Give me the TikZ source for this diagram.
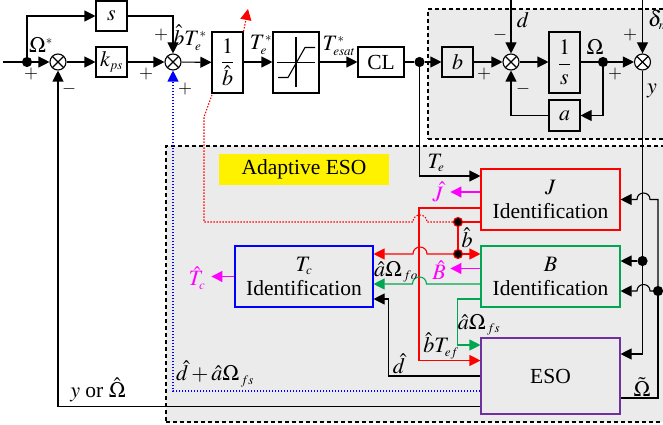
\documentclass[tikz,border=0pt]{standalone}
\usepackage{mathptmx}
\usepackage[no-math]{fontspec}
\setmainfont{Liberation Serif}
\usepackage{amsmath}
\usetikzlibrary{arrows.meta}
\DeclareMathSizes{21.5}{22}{13}{10}

\definecolor{regiongray}{RGB}{235,235,235}
\definecolor{estgreen}{RGB}{0,166,81}
\definecolor{esopurple}{RGB}{112,48,160}
\definecolor{estmagenta}{RGB}{255,0,255}

\begin{document}
\begin{tikzpicture}[x=1pt,y=-1pt,line width=1.1pt,>={Triangle[length=11pt,width=11pt]},
  every node/.style={font=\fontsize{21.5}{24}\selectfont,inner sep=0pt},
  block node/.style={draw,align=center},
  region node/.style={draw,dash pattern=on 4pt off 3pt,fill=regiongray,minimum width=#1},
  sum node/.style={circle,draw,fill=white,minimum size=16pt,path picture={
    \draw (path picture bounding box.north west) -- (path picture bounding box.south east);
    \draw (path picture bounding box.north east) -- (path picture bounding box.south west);}},
  dot node/.style={circle,fill=black,draw=black,minimum size=9pt},
  sign node/.style={font=\fontsize{18}{20}\selectfont},
  est dot/.style={circle,fill=black,draw=red,minimum size=9pt},
  jump arc/.style={out=90,in=90,looseness=1.7},
  dotted line/.style={line width=1.1pt,dash pattern=on 1.5pt off 1.5pt}]

    \useasboundingbox (0,0) rectangle (663,425);

    \node[region node=252pt,minimum height=130pt] (plant) at (554,74) {};
    \node[region node=514pt,minimum height=276pt] (region) at (423,284) {};
    \node[fill=yellow,minimum width=170pt,minimum height=31pt] (title) at (304,169.5) {Adaptive ESO};

    \coordinate (inlet) at (3,62);
    \coordinate (din) at (511,-2);
    \coordinate (deltain) at (642.5,-2);
    \coordinate (redtip) at (248,9);

    \node[dot node] (dot1) at (27,62) {};
    \node[sum node] (sum1) at (58,62) {};
    \node[block node,minimum width=31pt,minimum height=30pt] (kps) at (111.5,62) {$k_{ps}$};
    \node[block node,minimum width=31pt,minimum height=30pt] (s) at (111.5,16) {$s$};
    \node[sum node] (sum2) at (173,62) {};
    \node[block node,minimum width=31pt,minimum height=61pt] (invb) at (227.5,62.5) {$\dfrac{1}{\hat{b}}$};
    \node[block node,minimum width=46pt,minimum height=61pt] (sat) at (296,62.5) {};
    \node[block node,minimum width=46pt,minimum height=30pt] (cl) at (381,62) {CL};
    \node[dot node] (dot2) at (419.5,62) {};
    \node[block node,minimum width=31pt,minimum height=30pt] (b) at (457.5,62) {$b$};
    \node[sum node] (sum3) at (511,62) {};
    \node[block node,minimum width=31pt,minimum height=61pt] (invs) at (564.5,62.5) {$\dfrac{1}{s}$};
    \node[dot node] (dot3) at (603,62) {};
    \node[sum node] (sum4) at (642.5,62) {};
    \node[block node,minimum width=31pt,minimum height=31pt] (a) at (564.5,115.5) {$a$};

    \node[block node,draw=red,minimum width=139pt,minimum height=61pt] (jbox) at (550.5,199.5) {$J$\\Identification};
    \node[block node,draw=estgreen,minimum width=139pt,minimum height=61pt] (bbox) at (550.5,276.5) {$B$\\Identification};
    \node[block node,draw=esopurple,minimum width=139pt,minimum height=76pt] (eso) at (550.5,376) {ESO};
    \node[block node,draw=blue,minimum width=138pt,minimum height=61pt] (tc) at (304,276.5) {$T_c$\\Identification};

    \node[est dot] (rdot1) at (458,222) {};
    \node[est dot] (rdot2) at (458,254) {};
    \node[dot node] (ydot) at (642.5,261) {};
    \node[dot node] (odot) at (658,291) {};

    \draw ([xshift=-19pt]sat.center) -- ([xshift=19pt]sat.center);
    \draw ([yshift=25pt]sat.center) -- ([yshift=-25pt]sat.center);
    \draw ([xshift=-18pt,yshift=-15pt]sat.center) -- ++(10,0) -- ++(17,-30) -- ++(10,0);

    \draw (inlet) -- (dot1);
    \draw[->] (dot1) -- (sum1);
    \draw[->] (dot1) |- (s.west);
    \draw[->] (sum1) -- (kps);
    \draw[->] (kps) -- (sum2);
    \draw[->] (s.east) -| (sum2.north);
    \draw[->] (sum2) -- (invb);
    \draw[->] ([yshift=0.5pt]invb.east) -- ([yshift=0.5pt]sat.west);
    \draw[->] ([yshift=0.5pt]sat.east) -- (cl);
    \draw (cl) -- (dot2);
    \draw[->] (dot2) -- (b);
    \draw[->] (b) -- (sum3);
    \draw[->] (din) -- (sum3);
    \draw[->] (sum3) -- ([yshift=0.5pt]invs.west);
    \draw ([yshift=0.5pt]invs.east) -- (dot3);
    \draw[->] (dot3) -- (sum4);
    \draw[->] (dot3) |- (a.east);
    \draw[->] (a.west) -| (sum3.south);
    \draw[->] (deltain) -- (sum4);

    \draw[->] (dot2) |- ([yshift=23.5pt]jbox.west);
    \draw[->] (sum4.south) |- ([yshift=22pt]eso.east);
    \draw[->] (ydot) -- ([yshift=15.5pt]bbox.east);
    \draw ([yshift=-22pt]eso.east) -| (odot);
    \draw[->] (odot) -- (odot |- jbox.east) -- ++(-8,0) to[jump arc] ++(-13,0) -- (jbox.east);
    \draw[->] (odot) -- ++(-8,0) to[jump arc] ++(-13,0) -- ([yshift=-14.5pt]bbox.east);

    \draw[red,->] ([yshift=-8.5pt]jbox.west) -- ++(-61.5,0) |- ([yshift=15.5pt]eso.west);
    \draw[red] ([yshift=-22.5pt]jbox.west) -- (rdot1);
    \draw[red] (rdot1) -- (rdot2);
    \draw[red,->] (rdot2) -- ([yshift=22.5pt]bbox.west);
    \draw[red,->] (rdot2) -- ++(-31,0) to[jump arc] ++(-14,0) -- ([yshift=22.5pt]tc.east);
    \draw[red,dotted line] (rdot1) -- ++(-31,0) to[jump arc] ++(-14,0) -- ++(-209,0) -- ++(0,-105) -- ([xshift=1pt]invb.south west);
    \draw[red,dotted line,->] (invb.north east) -- (redtip);

    \draw[estgreen,->] ([yshift=-7.5pt]bbox.west) -- ++(-54,0) to[jump arc] ++(-14,0) -- ([yshift=-7.5pt]tc.east);
    \draw[estgreen,->] ([yshift=-22.5pt]bbox.west) -- ++(-23,0) |- ([yshift=31pt]eso.west);
    \draw[->] (eso.west) -| ++(-92,-77) -- ([yshift=-22.5pt]tc.east);
    \draw[blue,dotted line,->] ([yshift=-15pt]eso.west) -| (sum2.south);
    \draw[->] ([yshift=-30.5pt]eso.west) -| (sum1.south);

    \draw[estmagenta,->] ([yshift=7.5pt]jbox.west) -- ++(-30,0) coordinate (jout);
    \draw[estmagenta,->] ([yshift=8pt]bbox.west) -- ++(-30,0) coordinate (bout);
    \draw[estmagenta,->] (tc.west) -- ++(-23,0) coordinate (tcout);

    \node (omega) at (41,45) {$\Omega^{*}$};
    \node[sign node] (p1) at (31,74) {$+$};
    \node[sign node] (m1) at (69,89) {$-$};
    \node[sign node] (p2) at (146,74) {$+$};
    \node[sign node] (p3) at (161,35) {$+$};
    \node[sign node] (p4) at (185,89) {$+$};
    \node (bte) at (190,38) {$\hat{b}T_{e}^{*}$};
    \node (te) at (261,45) {$T_{e}^{*}$};
    \node (tesat) at (339,46) {$T_{esat}^{*}$};
    \node (dlab) at (523,20) {$d$};
    \node[sign node] (m3) at (500,35) {$-$};
    \node[sign node] (p5) at (484,74) {$+$};
    \node[sign node] (m4) at (523,89) {$-$};
    \node (omlab) at (595,47) {$\Omega$};
    \node[sign node] (p6) at (615,74) {$+$};
    \node[sign node] (p7) at (630,35) {$+$};
    \node (deltalab) at (657,20) {$\delta_{n}$};
    \node (ylab) at (652,91) {$y$};
    \node (telab) at (436,163) {$T_{e}$};
    \node[text=estmagenta] (jhat) at (438,192) {$\hat{J}$};
    \node[text=estmagenta] (bhat) at (439,270) {$\hat{B}$};
    \node[text=estmagenta] (tchat) at (197,278) {$\hat{T}_{c}$};
    \node (blab) at (467,238) {$\hat{b}$};
    \node (aofo) at (396,272) {$\hat{a}\Omega_{\,fo}$};
    \node (aofs) at (479,325) {$\hat{a}\Omega_{\,fs}$};
    \node (btef) at (441,346) {$\hat{b}T_{ef}$};
    \node (dhat) at (399,364) {$\hat{d}$};
    \node (dsum) at (215,374) {$\hat{d}+\hat{a}\Omega_{\,fs}$};
    \node (yom) at (98,390) {$y$ or $\hat{\Omega}$};
    \node (omtil) at (642,387) {$\tilde{\Omega}$};

\end{tikzpicture}
\end{document}
